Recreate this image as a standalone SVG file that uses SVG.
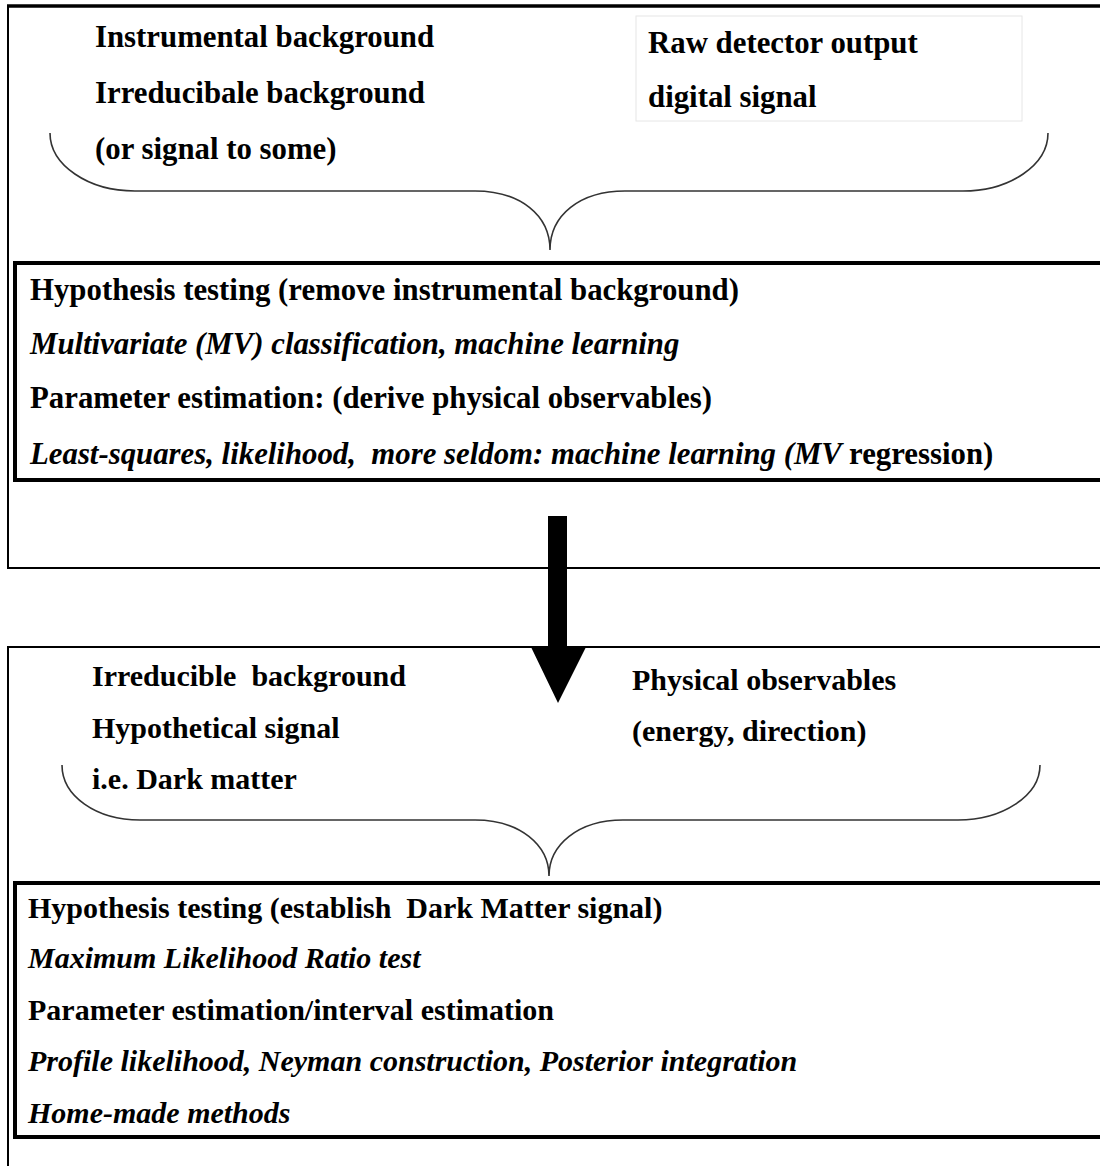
<svg xmlns="http://www.w3.org/2000/svg" width="1100" height="1166" viewBox="0 0 1100 1166">
<style>
text{font-family:"Liberation Serif","Times New Roman",serif;font-weight:bold;font-size:30px;fill:#000;white-space:pre}
.big{font-size:30.8px}
.it{font-style:italic}
.up{font-style:normal}
.frame{fill:none;stroke:#000;stroke-width:2}
.thick{fill:none;stroke:#000;stroke-width:4}
.brace{fill:none;stroke:#333;stroke-width:1.6}
</style>
<rect width="1100" height="1166" fill="#fff"/>
<g id="top-frame">
<path class="frame" d="M1102,568 H8 V6"/>
<line x1="7" y1="6" x2="1102" y2="6" stroke="#000" stroke-width="3.5"/>
</g>
<g id="top-inputs">
<text class="big" x="95" y="47">Instrumental background</text>
<text class="big" x="95" y="103">Irreducibale background</text>
<text class="big" x="95" y="159">(or signal to some)</text>
<rect x="636" y="16" width="386" height="105" fill="none" stroke="#e6e6e6" stroke-width="1"/>
<text class="big" x="648" y="53">Raw detector output</text>
<text class="big" x="648" y="107">digital signal</text>
</g>
<g id="top-brace">
<path class="brace" d="M50,133 C50,165 88,191 135,191 L475,191 C520,191 550,215 550,250 C550,215 580,191 625,191 L963,191 C1010,191 1048,165 1048,133"/>
</g>
<g id="stage1">
<path class="thick" d="M1104,480 H15 V263 H1104"/>
<text class="big" x="30" y="300">Hypothesis testing (remove instrumental background)</text>
<text class="big it" x="30" y="354">Multivariate (MV) classification, machine learning</text>
<text class="big" x="30" y="408">Parameter estimation: (derive physical observables)</text>
<text class="big it" x="30" y="464">Least-squares, likelihood,  more seldom: machine learning (MV <tspan class="up">regression)</tspan></text>
</g>
<g id="bottom-frame">
<path class="frame" d="M8,1170 V647 H1102"/>
</g>
<g id="bottom-inputs">
<text x="92" y="686">Irreducible  background</text>
<text x="92" y="738">Hypothetical signal</text>
<text x="92" y="789">i.e. Dark matter</text>
<text x="632" y="690">Physical observables</text>
<text x="632" y="741">(energy, direction)</text>
</g>
<g id="bottom-brace">
<path class="brace" d="M62,765 C62,796 96,820 140,820 L475,820 C520,820 549,845 549,876 C549,845 578,820 623,820 L958,820 C1002,820 1040,796 1040,765"/>
</g>
<g id="stage2">
<path class="thick" d="M1104,1137 H15 V883 H1104"/>
<text x="28" y="918">Hypothesis testing (establish  Dark Matter signal)</text>
<text class="it" x="28" y="968">Maximum Likelihood Ratio test</text>
<text x="28" y="1020">Parameter estimation/interval estimation</text>
<text class="it" x="28" y="1071">Profile likelihood, Neyman construction, Posterior integration</text>
<text class="it" x="28" y="1123">Home-made methods</text>
</g>
<g id="connectors">
<path d="M548,516 H567 V647 H586 L558,703 L531,647 H548 Z" fill="#000"/>
</g>
</svg>
